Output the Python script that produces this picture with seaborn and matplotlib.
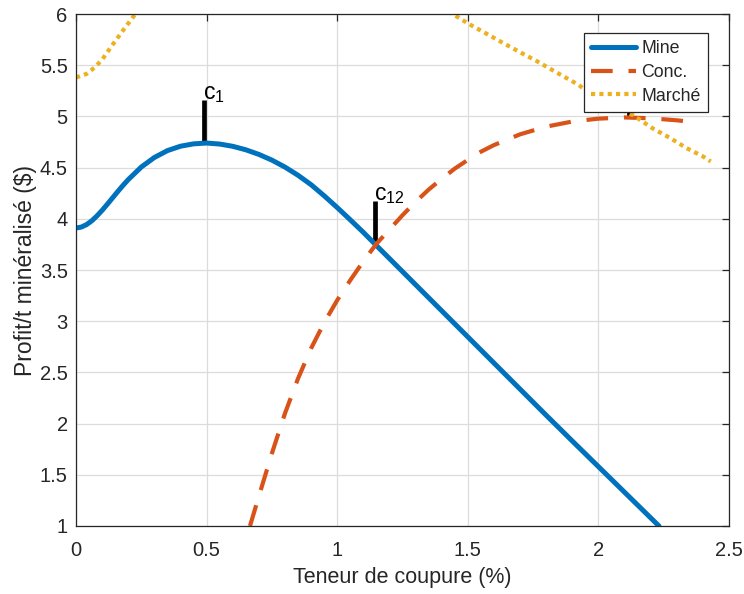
import matplotlib
matplotlib.use("Agg")
import matplotlib.pyplot as plt
import seaborn as sns
import pandas as pd

# Profit per tonne of mineralised material as a function of cut-off grade
mine_x = [0.00, 0.02, 0.04, 0.06, 0.08, 0.10, 0.12, 0.14, 0.16, 0.18, 0.20,
          0.25, 0.30, 0.35, 0.40, 0.45, 0.50, 0.55, 0.60, 0.65, 0.70, 0.75,
          0.80, 0.85, 0.90, 0.95, 1.00, 1.05, 1.10, 1.145, 1.20, 1.30, 1.40,
          1.50, 1.60, 1.70, 1.80, 1.90, 2.00, 2.10, 2.20, 2.232]
mine_y = [3.910, 3.919, 3.943, 3.980, 4.028, 4.083, 4.143, 4.205, 4.267,
          4.327, 4.383, 4.506, 4.599, 4.666, 4.709, 4.732, 4.740, 4.730,
          4.708, 4.674, 4.629, 4.573, 4.505, 4.425, 4.333, 4.225, 4.110,
          3.990, 3.868, 3.752, 3.612, 3.357, 3.102, 2.847, 2.592, 2.337,
          2.082, 1.830, 1.580, 1.330, 1.080, 1.000]

conc_x = [0.666, 0.70, 0.75, 0.80, 0.85, 0.90, 0.95, 1.00, 1.05, 1.10,
          1.15, 1.20, 1.25, 1.30, 1.35, 1.40, 1.45, 1.50, 1.55, 1.60, 1.70,
          1.80, 1.90, 2.00, 2.10, 2.20, 2.30, 2.38]
conc_y = [1.000, 1.290, 1.710, 2.100, 2.440, 2.735, 2.985, 3.205, 3.400,
          3.585, 3.755, 3.895, 4.035, 4.165, 4.285, 4.390, 4.490, 4.575,
          4.655, 4.720, 4.825, 4.900, 4.950, 4.978, 4.990, 4.982, 4.962,
          4.940]

marche_x = [0.00, 0.04, 0.07, 0.10, 0.14, 0.18, 0.227, 0.30, 0.40, 0.50,
            0.60, 0.70, 0.80, 0.90, 1.00, 1.10, 1.20, 1.30, 1.442, 1.506,
            1.57, 1.633, 1.70, 1.764, 1.86, 1.923, 1.949, 2.00, 2.07, 2.134,
            2.21, 2.274, 2.338, 2.40, 2.43]
marche_y = [5.380, 5.415, 5.475, 5.555, 5.700, 5.840, 6.000, 6.240, 6.500,
            6.680, 6.780, 6.820, 6.800, 6.720, 6.620, 6.500, 6.360, 6.210,
            6.000, 5.900, 5.810, 5.720, 5.627, 5.540, 5.400, 5.310, 5.260,
            5.190, 5.090, 5.010, 4.880, 4.790, 4.690, 4.610, 4.560]

# Break-even cut-off grades: grade, profit at the curve, label
cutoff_x = [0.49, 1.145, 2.116]
cutoff_y = [4.738, 3.752, 4.985]
cutoff_labels = ["c$_{1}$", "c$_{12}$", None]
marker_len = 0.42

series_names = ["Mine", "Conc.", "Marché"]
colors = ["#0072BD", "#D95319", "#EDB120"]

x_ticks = [0, 0.5, 1, 1.5, 2, 2.5]
x_tick_labels = ["0", "0.5", "1", "1.5", "2", "2.5"]
y_ticks = [1, 1.5, 2, 2.5, 3, 3.5, 4, 4.5, 5, 5.5, 6]
y_tick_labels = ["1", "1.5", "2", "2.5", "3", "3.5", "4", "4.5", "5", "5.5", "6"]

sns.set_theme(style="whitegrid")
plt.rcParams["font.family"] = ["Liberation Sans", "DejaVu Sans"]
plt.rcParams["mathtext.fontset"] = "custom"
plt.rcParams["mathtext.rm"] = "Liberation Sans"
plt.rcParams["mathtext.default"] = "regular"

fig, ax = plt.subplots(figsize=(7.44, 5.94), dpi=100)
fig.subplots_adjust(left=0.1022, right=0.9798, bottom=0.1145, top=0.9764)
fig.patch.set_facecolor("white")
ax.set_facecolor("white")

df_mine = pd.DataFrame({"x": mine_x, "y": mine_y})
df_conc = pd.DataFrame({"x": conc_x, "y": conc_y})
df_marche = pd.DataFrame({"x": marche_x, "y": marche_y})

# vertical cut-off markers sit beneath the curves
for cx, cy in zip(cutoff_x, cutoff_y):
    ax.plot([cx, cx], [cy, cy + marker_len], color="black", lw=3.4,
            solid_capstyle="butt", zorder=1.8)
for cx, cy, lab in zip(cutoff_x, cutoff_y, cutoff_labels):
    if lab:
        ax.text(cx - 0.004, cy + marker_len - 0.05, lab, fontsize=16.5,
                ha="left", va="bottom", color="black", zorder=3)

sns.lineplot(data=df_mine, x="x", y="y", ax=ax, sort=False, color=colors[0],
             linewidth=3.6, label=series_names[0], zorder=2)
sns.lineplot(data=df_conc, x="x", y="y", ax=ax, sort=False, color=colors[1],
             linewidth=3.0, linestyle=(0, (5.2, 3.8)), label=series_names[1],
             zorder=2.1)
sns.lineplot(data=df_marche, x="x", y="y", ax=ax, sort=False, color=colors[2],
             linewidth=3.0, linestyle=(0, (1.0, 1.0)), label=series_names[2],
             zorder=2.2)
for ln in ax.lines[-3:]:
    ln.set_dash_capstyle("butt")
    ln.set_solid_joinstyle("round")

ax.set_xlim(0, 2.5)
ax.set_ylim(1, 6)
ax.set_xticks(x_ticks)
ax.set_xticklabels(x_tick_labels)
ax.set_yticks(y_ticks)
ax.set_yticklabels(y_tick_labels)

axis_col = "#262626"
ax.grid(True, color="#dcdcdc", linewidth=0.9)
for sp in ax.spines.values():
    sp.set_visible(True)
    sp.set_color(axis_col)
    sp.set_linewidth(0.9)
ax.tick_params(axis="both", which="major", direction="in", length=5,
               width=0.9, color=axis_col, labelcolor=axis_col,
               labelsize=14.5, top=True, right=True)
ax.tick_params(axis="x", pad=10.5)
ax.tick_params(axis="y", pad=6)

ax.set_xlabel("Teneur de coupure (%)", fontsize=15.5, color=axis_col,
              labelpad=5)
ax.set_ylabel("Profit/t minéralisé ($)", fontsize=16.5, color=axis_col,
              labelpad=2)

leg = ax.legend(loc="upper right", bbox_to_anchor=(0.968, 0.963),
                fontsize=12.8, frameon=True, fancybox=False, framealpha=1,
                edgecolor=axis_col, handlelength=2.55, handletextpad=0.3,
                borderpad=0.4, labelspacing=0.38, borderaxespad=0)
leg.get_frame().set_linewidth(0.9)
leg.set_zorder(10)

fig.savefig("out.png", dpi=100, facecolor="white")
